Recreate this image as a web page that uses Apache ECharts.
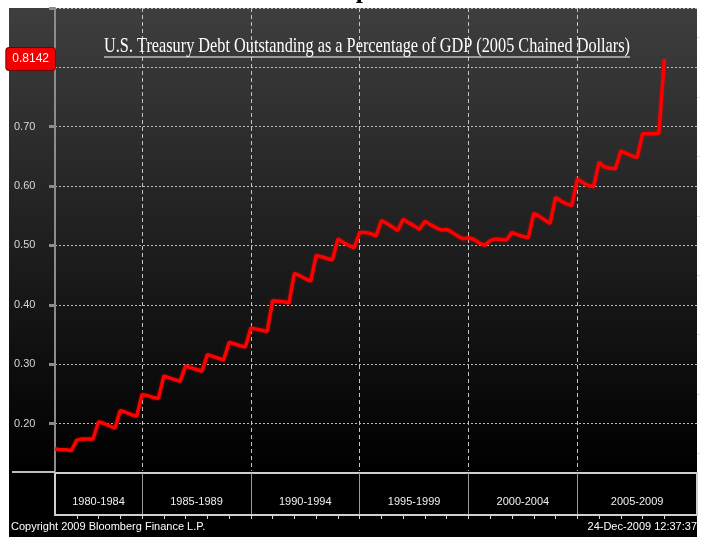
<!DOCTYPE html>
<html>
<head>
<meta charset="utf-8">
<script src="https://cdn.jsdelivr.net/npm/echarts@6/dist/echarts.min.js"></script>
<style>
  html, body { margin: 0; padding: 0; background: #fff; }
  #chart { width: 703px; height: 537px; }
</style>
</head>
<body>
<div id="chart"></div>
<script>
// quarterly ratio, first point = 1981 Q1, last point = 2009 Q1
const startYear = 1981;
const debtRatio = [
  0.157, 0.156, 0.156, 0.154, // 1981
  0.172, 0.174, 0.174, 0.174, // 1982
  0.203, 0.200, 0.196, 0.192, // 1983
  0.222, 0.219, 0.215, 0.212, // 1984
  0.249, 0.247, 0.244, 0.242, // 1985
  0.280, 0.277, 0.274, 0.271, // 1986
  0.297, 0.294, 0.291, 0.288, // 1987
  0.316, 0.313, 0.310, 0.307, // 1988
  0.337, 0.334, 0.331, 0.329, // 1989
  0.361, 0.359, 0.357, 0.355, // 1990
  0.407, 0.406, 0.405, 0.403, // 1991
  0.453, 0.449, 0.444, 0.440, // 1992
  0.483, 0.481, 0.478, 0.476, // 1993
  0.511, 0.505, 0.500, 0.496, // 1994
  0.522, 0.522, 0.520, 0.516, // 1995
  0.542, 0.537, 0.531, 0.525, // 1996
  0.544, 0.538, 0.533, 0.527, // 1997
  0.541, 0.535, 0.530, 0.526, // 1998
  0.527, 0.522, 0.516, 0.511, // 1999
  0.513, 0.510, 0.504, 0.500, // 2000
  0.508, 0.511, 0.510, 0.509, // 2001
  0.522, 0.518, 0.515, 0.513, // 2002
  0.554, 0.549, 0.543, 0.537, // 2003
  0.581, 0.575, 0.570, 0.567, // 2004
  0.612, 0.606, 0.601, 0.599, // 2005
  0.640, 0.632, 0.630, 0.629, // 2006
  0.659, 0.655, 0.651, 0.648, // 2007
  0.688, 0.688, 0.688, 0.689, // 2008
  0.8142                      // 2009
];

const periodLabels = ['1980-1984', '1985-1989', '1990-1994', '1995-1999', '2000-2004', '2005-2009'];
const periodCenters = [1983, 1987.5, 1992.5, 1997.5, 2002.5, 2007.75];
const periodBounds = [1985, 1990, 1995, 2000, 2005];
const yLabelValues = [0.2, 0.3, 0.4, 0.5, 0.6, 0.7, 0.8];
const yMajorTicks = [0.2, 0.3, 0.4, 0.5, 0.6, 0.7, 0.8, 0.9];
const yMinorTicks = [0.15, 0.25, 0.35, 0.45, 0.55, 0.65, 0.75, 0.85];

const xMin = 1981, xMax = 2010.5;
const yearTicks = [];
for (let y = 1982; y <= 2009; y++) yearTicks.push(y);

const sans = "'Liberation Sans', Arial, sans-serif";
const seriesData = debtRatio.map((v, i) => [startYear + i / 4, v]);
const lastValue = debtRatio[debtRatio.length - 1];

const chart = echarts.init(document.getElementById('chart'));

chart.setOption({
  backgroundColor: '#fff',
  animation: false,
  title: [
    {
      text: 'Graph', left: 306, top: -27,
      textStyle: { fontFamily: "'Liberation Serif', serif", fontWeight: 'bold', fontSize: 26, color: '#000' }
    },
    {
      text: 'Copyright 2009 Bloomberg Finance L.P.', left: 11, top: 521, padding: 0,
      textStyle: { fontFamily: sans, fontWeight: 'normal', fontSize: 11, color: '#fff' }
    },
    {
      text: '24-Dec-2009 12:37:37', right: 6, top: 521, padding: 0,
      textStyle: { fontFamily: sans, fontWeight: 'normal', fontSize: 11, color: '#fff' }
    }
  ],
  graphic: [
    {
      type: 'rect', z: -10, silent: true,
      shape: { x: 9, y: 8, width: 688, height: 529 },
      style: {
        fill: new echarts.graphic.LinearGradient(0, 0, 0, 1, [
          { offset: 0, color: '#3e3e3e' },
          { offset: 0.87, color: '#000' },
          { offset: 1, color: '#000' }
        ])
      }
    },
    {
      type: 'line', z: 5, silent: true,
      shape: { x1: 12, y1: 472, x2: 55, y2: 472 },
      style: { stroke: '#bdbdbd', lineWidth: 2 }
    },
    {
      type: 'text', z: 10, x: 367, y: 46, scaleX: 0.775,
      style: {
        text: 'U.S. Treasury Debt Outstanding as a Percentage of GDP (2005 Chained Dollars)',
        font: "21px 'Liberation Serif', serif", fill: '#fff',
        align: 'center', verticalAlign: 'middle'
      }
    },
    {
      type: 'line', z: 10, silent: true,
      shape: { x1: 104, y1: 57, x2: 630, y2: 57 },
      style: { stroke: '#fff', lineWidth: 1 }
    }
  ],
  grid: [
    { left: 55, right: 6, top: 8, height: 463, show: false },
    { left: 55, right: 6, top: 473, height: 42, show: true, backgroundColor: '#000', borderColor: '#cfcfcf', borderWidth: 2 }
  ],
  xAxis: [
    {
      gridIndex: 0, type: 'value', min: xMin, max: xMax,
      axisLine: { show: false },
      axisTick: { show: false, customValues: periodBounds },
      axisLabel: { show: false },
      splitLine: { show: true, lineStyle: { type: [4, 3], color: '#c4c4c4', width: 1 } }
    },
    {
      gridIndex: 1, type: 'value', position: 'top', min: xMin, max: xMax,
      axisLine: { show: true, lineStyle: { color: '#cfcfcf', width: 2 } },
      axisTick: { show: true, inside: true, length: 4, customValues: yearTicks, lineStyle: { color: '#d8d8d8' } },
      axisLabel: {
        show: true, inside: true, margin: 23, customValues: periodCenters,
        formatter: v => periodLabels[periodCenters.indexOf(v)] || '',
        color: '#f0f0f0', fontFamily: sans, fontSize: 11
      },
      splitLine: { show: false }
    },
    {
      gridIndex: 1, type: 'value', position: 'bottom', min: xMin, max: xMax,
      axisLine: { show: false },
      axisTick: { show: false, customValues: periodBounds },
      axisLabel: { show: false },
      splitLine: { show: true, lineStyle: { color: '#9a9a9a', width: 1 } }
    }
  ],
  yAxis: [
    {
      gridIndex: 0, type: 'value', min: 0.12, max: 0.9,
      axisLine: { show: true, lineStyle: { color: '#8c8c8c', width: 2 } },
      axisTick: { show: true, length: 6, customValues: yMajorTicks, lineStyle: { color: '#8c8c8c', width: 3 } },
      axisLabel: {
        show: true, customValues: yLabelValues, formatter: v => v.toFixed(2),
        align: 'left', margin: 41, color: '#d6d6d6', fontFamily: sans, fontSize: 11
      },
      splitLine: { show: true, lineStyle: { type: [2, 2], color: '#bdbdbd', width: 1 } },
      axisPointer: {
        show: true, type: 'line', value: lastValue, status: 'show', triggerTooltip: false,
        lineStyle: { opacity: 0 },
        label: {
          show: true, formatter: p => p.value.toFixed(4), margin: 0,
          backgroundColor: '#f00000', color: '#fff', borderColor: '#700', borderWidth: 1,
          padding: [5, 6], fontFamily: sans, fontSize: 12
        }
      }
    },
    {
      gridIndex: 0, type: 'value', min: 0.12, max: 0.9,
      axisLine: { show: false },
      axisTick: { show: true, length: 3, customValues: yMinorTicks, lineStyle: { color: '#e0e0e0', width: 1 } },
      axisLabel: { show: false },
      splitLine: { show: false }
    },
    { gridIndex: 1, type: 'value', show: false }
  ],
  series: [
    {
      type: 'line', xAxisIndex: 0, yAxisIndex: 0,
      data: seriesData, showSymbol: false, symbol: 'none',
      lineStyle: { color: '#ff0000', width: 3.5, shadowColor: 'rgba(255,0,0,0.45)', shadowBlur: 3 },
      z: 5
    }
  ]
});
</script>
</body>
</html>
